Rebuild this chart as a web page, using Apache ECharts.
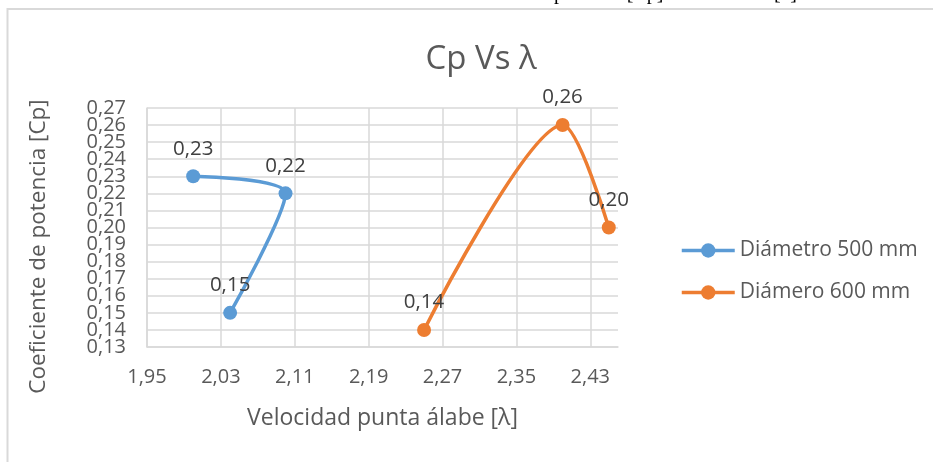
<!DOCTYPE html>
<html>
<head>
<meta charset="utf-8">
<script src="https://cdn.jsdelivr.net/npm/echarts@6/dist/echarts.min.js"></script>
<style>
  html, body { margin: 0; padding: 0; background: #fff; }
  #main { width: 933px; height: 462px; }
</style>
</head>
<body>
<div id="main"></div>
<script>
// datos
var lambda500 = [2.00, 2.10, 2.04];
var cp500 = [0.23, 0.22, 0.15];
var lambda600 = [2.25, 2.40, 2.45];
var cp600 = [0.14, 0.26, 0.20];
var seriesNames = ['Diámetro 500 mm', 'Diámero 600 mm'];
var cpMin = 0.13, cpMax = 0.27, cpStep = 0.01;
var lamMin = 1.95, lamMax = 2.46, lamStep = 0.08;

var coma = function (v) { return v.toFixed(2).replace('.', ','); };
var pares = function (xs, ys) { return xs.map(function (x, i) { return [x, ys[i]]; }); };

var fuente = '"Open Sans", "Noto Sans", sans-serif';
var gris = '#595959';
var labelY = { color: gris, fontFamily: fuente, fontSize: 20, margin: 21 };

var chart = echarts.init(document.getElementById('main'), null, { renderer: 'canvas' });

var serie = function (name, data, color) {
  return {
    name: name,
    type: 'line',
    data: data,
    smooth: 0.27,
    symbol: 'circle',
    symbolSize: 14,
    lineStyle: { color: color, width: 3.5 },
    itemStyle: { color: color },
    label: {
      show: true,
      position: 'top',
      distance: 10,
      color: '#404040',
      fontFamily: fuente,
      fontSize: 20.5,
      formatter: function (p) { return coma(p.value[1]); }
    },
    z: 3
  };
};

chart.setOption({
  backgroundColor: '#fff',
  animation: false,
  title: {
    text: 'Cp Vs λ',
    left: 476,
    top: 38,
    textAlign: 'center',
    textStyle: { color: gris, fontFamily: fuente, fontSize: 33, fontWeight: 'normal' }
  },
  legend: {
    orient: 'vertical',
    left: 680,
    top: 240,
    padding: 0,
    itemWidth: 53,
    itemHeight: 18,
    itemGap: 21,
    lineStyle: { width: 3.5 },
    textStyle: { color: gris, fontFamily: fuente, fontSize: 21 },
    data: seriesNames
  },
  grid: { left: 147, top: 108, right: 315, bottom: 115 },
  xAxis: {
    type: 'value',
    min: lamMin,
    max: lamMax,
    interval: lamStep,
    name: 'Velocidad punta álabe [λ]',
    nameLocation: 'middle',
    nameGap: 60,
    nameTextStyle: { color: gris, fontFamily: fuente, fontSize: 23 },
    axisLine: { show: true, lineStyle: { color: '#d9d9d9', width: 1.5 } },
    axisTick: { show: false },
    axisLabel: {
      color: gris, fontFamily: fuente, fontSize: 20, margin: 20,
      showMinLabel: true,
      showMaxLabel: false,
      formatter: function (v) { return coma(v); }
    },
    splitLine: { show: true, showMaxLine: false, lineStyle: { color: '#d9d9d9', width: 1.5 } }
  },
  yAxis: [
    {
      // eje principal: etiquetas interiores
      type: 'value',
      min: cpMin,
      max: cpMax,
      interval: cpStep,
      name: 'Coeficiente de potencia [Cp]',
      nameLocation: 'middle',
      nameGap: 97,
      nameTextStyle: { color: gris, fontFamily: fuente, fontSize: 22.5, padding: [0, 38, 0, 0] },
      axisLine: { show: true, lineStyle: { color: '#d9d9d9', width: 1.5 } },
      axisTick: { show: false },
      axisLabel: Object.assign({}, labelY, {
        showMinLabel: false,
        showMaxLabel: false,
        formatter: function (v) { return coma(v); }
      }),
      splitLine: { show: true, lineStyle: { color: '#d9d9d9', width: 1.5 } }
    },
    {
      // mismo eje, solo para 0,13 y 0,27 (ECharts las oculta por solape)
      type: 'value',
      position: 'left',
      min: cpMin,
      max: cpMax,
      interval: cpStep,
      axisLine: { show: false },
      axisTick: { show: false },
      splitLine: { show: false },
      axisLabel: Object.assign({}, labelY, {
        showMinLabel: true,
        showMaxLabel: true,
        formatter: function (v) {
          return (Math.abs(v - cpMin) < 1e-9 || Math.abs(v - cpMax) < 1e-9) ? coma(v) : '';
        }
      })
    }
  ],
  graphic: [
    {
      type: 'rect',
      shape: { x: 7.5, y: 9, width: 1000, height: 1000 },
      style: { fill: 'none', stroke: '#d9d9d9', lineWidth: 2 },
      silent: true
    },
    {
      type: 'text',
      x: 433,
      y: -6,
      style: {
        text: 'Coeficiente de potencia [Cp] vs velocidad [λ]',
        font: '20px "Liberation Serif", serif',
        fill: '#000',
        verticalAlign: 'middle'
      },
      silent: true
    }
  ],
  series: [
    serie(seriesNames[0], pares(lambda500, cp500), '#5b9bd5'),
    serie(seriesNames[1], pares(lambda600, cp600), '#ed7d31')
  ]
});

window.onresize = chart.resize;
</script>
</body>
</html>
